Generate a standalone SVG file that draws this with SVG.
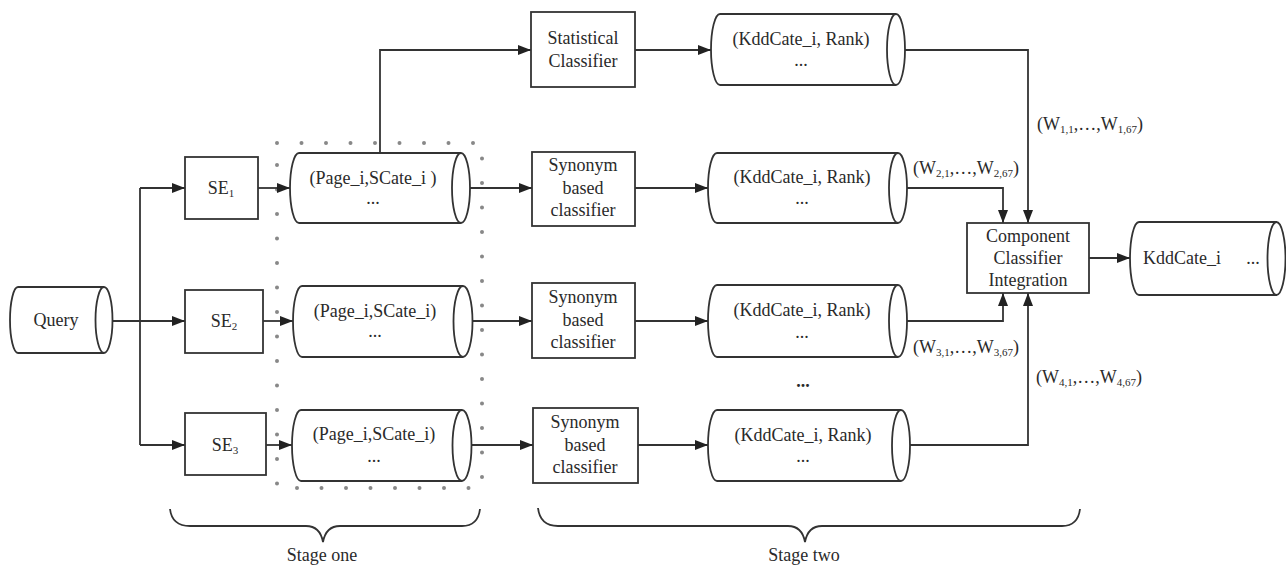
<svg xmlns="http://www.w3.org/2000/svg" width="1286" height="565" viewBox="0 0 1286 565">
<defs>
<marker id="arr" markerUnits="userSpaceOnUse" markerWidth="14" markerHeight="12" refX="13" refY="6" orient="auto">
<path d="M0,1 L13,6 L0,11 Z" fill="#222"/>
</marker>
<style>
.box{fill:none;stroke:#333;stroke-width:1.8}
.cyl{fill:none;stroke:#333;stroke-width:1.8}
.ln{fill:none;stroke:#333;stroke-width:1.8}
.ar{fill:none;stroke:#333;stroke-width:1.8;marker-end:url(#arr)}
.t{font-family:"Liberation Serif","Times New Roman",serif;font-size:18px;fill:#2a2a2a;text-anchor:middle}
.w{font-family:"Liberation Serif","Times New Roman",serif;font-size:18px;fill:#2a2a2a}
.sub{font-size:11px}
.dots{fill:none;stroke:#888;stroke-width:4;stroke-linecap:round;stroke-dasharray:0 24.5}
</style>
</defs>
<rect width="1286" height="565" fill="#ffffff"/>

<rect class="dots" x="277" y="143" width="205" height="345"/>

<g id="connectors">
<path class="ln" d="M113,321 H140 M140,188 V445"/>
<path class="ar" d="M140,188 H185"/>
<path class="ar" d="M140,321 H185"/>
<path class="ar" d="M140,445 H185"/>
<path class="ar" d="M258,188 H290"/>
<path class="ar" d="M263,321 H293"/>
<path class="ar" d="M266,445 H292"/>
<path class="ar" d="M380,153 V50 H531"/>
<path class="ar" d="M635,50 H711"/>
<path class="ar" d="M470,188 H532"/>
<path class="ar" d="M472,321 H532"/>
<path class="ar" d="M472,445 H533"/>
<path class="ar" d="M635,188 H708"/>
<path class="ar" d="M635,321 H708"/>
<path class="ar" d="M638,445 H708"/>
<path class="ar" d="M905,50 H1028 V223"/>
<path class="ar" d="M907,188 H1003 V223"/>
<path class="ar" d="M907,321 H1003 V293"/>
<path class="ar" d="M910,445 H1028 V293"/>
<path class="ar" d="M1089,258 H1130"/>
</g>

<g id="query">
<path class="cyl" d="M18,287 H104 M18,353 H104 M18,287 A8,33 0 0 0 18,353"/>
<ellipse class="cyl" cx="104" cy="320" rx="8.5" ry="33"/>
<text class="t" x="56" y="326">Query</text>
</g>

<g id="se1">
<rect class="box" x="185" y="157" width="73" height="62"/>
<text class="t" x="221" y="194">SE<tspan class="sub" dy="3">1</tspan></text>
</g>
<g id="se2">
<rect class="box" x="185" y="290" width="78" height="63"/>
<text class="t" x="224" y="327">SE<tspan class="sub" dy="3">2</tspan></text>
</g>
<g id="se3">
<rect class="box" x="185" y="413" width="81" height="62"/>
<text class="t" x="225" y="451">SE<tspan class="sub" dy="3">3</tspan></text>
</g>

<g id="page1">
<path class="cyl" d="M299,153 H461 M299,223 H461 M299,153 A9,35 0 0 0 299,223"/>
<ellipse class="cyl" cx="461" cy="188" rx="9" ry="35"/>
<text class="t" x="373" y="184">(Page_i,SCate_i )</text>
<text class="t" x="373" y="204">...</text>
</g>
<g id="page2">
<path class="cyl" d="M302,286 H463 M302,357 H463 M302,286 A9,35.5 0 0 0 302,357"/>
<ellipse class="cyl" cx="463" cy="321.5" rx="9.5" ry="35.5"/>
<text class="t" x="375" y="317">(Page_i,SCate_i)</text>
<text class="t" x="375" y="337">...</text>
</g>
<g id="page3">
<path class="cyl" d="M301,410 H462 M301,481 H462 M301,410 A9,35.5 0 0 0 301,481"/>
<ellipse class="cyl" cx="462" cy="445.5" rx="9.5" ry="35.5"/>
<text class="t" x="374" y="440">(Page_i,SCate_i)</text>
<text class="t" x="374" y="462">...</text>
</g>

<g id="stat">
<rect class="box" x="531" y="12" width="104" height="75"/>
<text class="t" x="583" y="44">Statistical</text>
<text class="t" x="583" y="67">Classifier</text>
</g>
<g id="syn1">
<rect class="box" x="532" y="152" width="103" height="74"/>
<text class="t" x="583" y="166" dy="5">Synonym</text>
<text class="t" x="583" y="189" dy="5">based</text>
<text class="t" x="583" y="211" dy="5">classifier</text>
</g>
<g id="syn2">
<rect class="box" x="532" y="283" width="103" height="75"/>
<text class="t" x="583" y="298" dy="5">Synonym</text>
<text class="t" x="583" y="321" dy="5">based</text>
<text class="t" x="583" y="343" dy="5">classifier</text>
</g>
<g id="syn3">
<rect class="box" x="533" y="408" width="105" height="75"/>
<text class="t" x="585" y="423" dy="5">Synonym</text>
<text class="t" x="585" y="446" dy="5">based</text>
<text class="t" x="585" y="468" dy="5">classifier</text>
</g>

<g id="kddtop">
<path class="cyl" d="M720,14 H896 M720,85 H896 M720,14 A9,35.5 0 0 0 720,85"/>
<ellipse class="cyl" cx="896" cy="49.5" rx="9" ry="35.5"/>
<text class="t" x="801" y="45">(KddCate_i, Rank)</text>
<text class="t" x="801" y="66">...</text>
</g>
<g id="kdd1">
<path class="cyl" d="M717,153 H898 M717,223 H898 M717,153 A9,35 0 0 0 717,223"/>
<ellipse class="cyl" cx="898" cy="188" rx="9" ry="35"/>
<text class="t" x="802" y="183">(KddCate_i, Rank)</text>
<text class="t" x="802" y="204">...</text>
</g>
<g id="kdd2">
<path class="cyl" d="M717,285 H898 M717,357 H898 M717,285 A9,36 0 0 0 717,357"/>
<ellipse class="cyl" cx="898" cy="321" rx="9" ry="36"/>
<text class="t" x="802" y="316">(KddCate_i, Rank)</text>
<text class="t" x="802" y="338">...</text>
</g>
<text class="t" x="803" y="387" style="font-weight:bold">...</text>
<g id="kdd3">
<path class="cyl" d="M717,410 H901 M717,481 H901 M717,410 A9,35.5 0 0 0 717,481"/>
<ellipse class="cyl" cx="901" cy="445.5" rx="9" ry="35.5"/>
<text class="t" x="803" y="441">(KddCate_i, Rank)</text>
<text class="t" x="803" y="462">...</text>
</g>

<g id="comp">
<rect class="box" x="967" y="223" width="122" height="70"/>
<text class="t" x="1028" y="242">Component</text>
<text class="t" x="1028" y="264">Classifier</text>
<text class="t" x="1028" y="286">Integration</text>
</g>
<g id="out">
<path class="cyl" d="M1139,222 H1277 M1139,295 H1277 M1139,222 A9,36.5 0 0 0 1139,295"/>
<ellipse class="cyl" cx="1276.5" cy="258.5" rx="9" ry="36.5"/>
<text class="w" x="1143" y="264">KddCate_i</text>
<text class="t" x="1253" y="264">...</text>
</g>

<g id="labels">
<text class="w" x="1037" y="130">(W<tspan class="sub" dy="3">1,1</tspan><tspan dy="-3">,…,W</tspan><tspan class="sub" dy="3">1,67</tspan><tspan dy="-3">)</tspan></text>
<text class="w" x="913" y="174">(W<tspan class="sub" dy="3">2,1</tspan><tspan dy="-3">,…,W</tspan><tspan class="sub" dy="3">2,67</tspan><tspan dy="-3">)</tspan></text>
<text class="w" x="913" y="353">(W<tspan class="sub" dy="3">3,1</tspan><tspan dy="-3">,…,W</tspan><tspan class="sub" dy="3">3,67</tspan><tspan dy="-3">)</tspan></text>
<text class="w" x="1036" y="383">(W<tspan class="sub" dy="3">4,1</tspan><tspan dy="-3">,…,W</tspan><tspan class="sub" dy="3">4,67</tspan><tspan dy="-3">)</tspan></text>
</g>

<g id="stage-one">
<path class="ln" d="M170,509 Q172,526 190,526 H306 Q320,526 323,542 Q326,526 340,526 H462 Q478,526 480,509"/>
<text class="t" x="322" y="561">Stage one</text>
</g>
<g id="stage-two">
<path class="ln" d="M538,508 Q540,526 558,526 H788 Q802,526 805,542 Q808,526 822,526 H1062 Q1078,526 1080,509"/>
<text class="t" x="804" y="561">Stage two</text>
</g>
</svg>
